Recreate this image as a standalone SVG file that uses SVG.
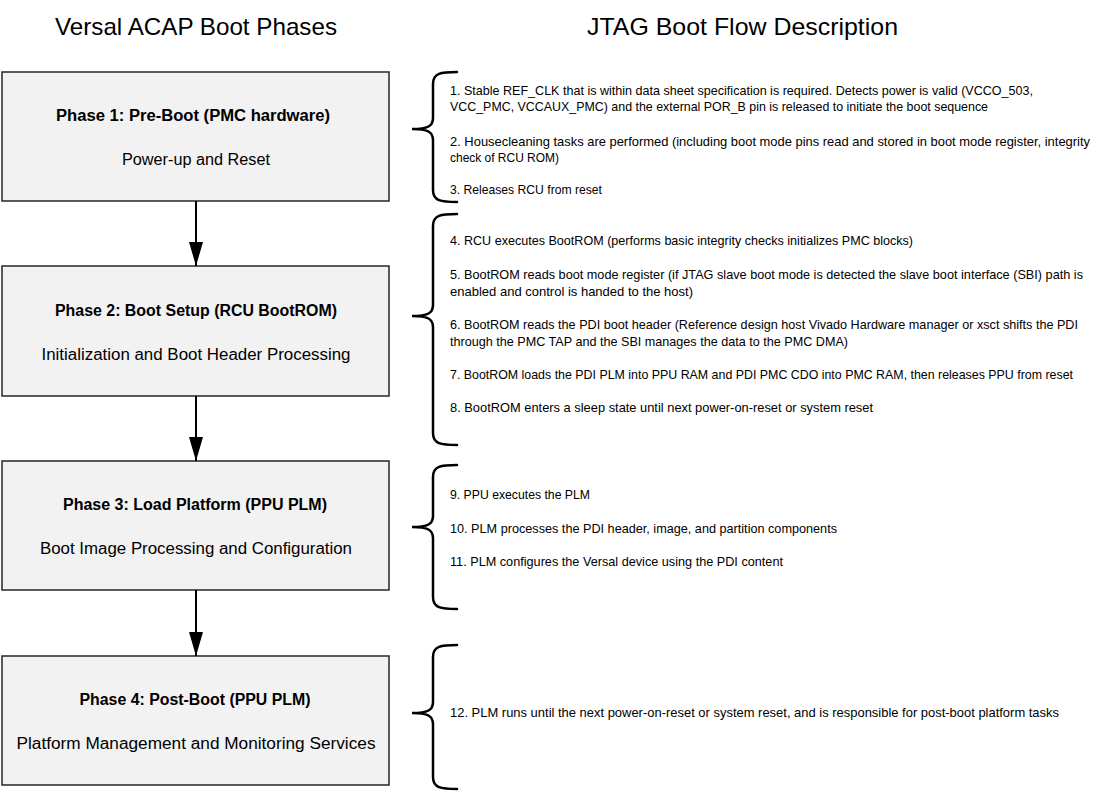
<svg xmlns="http://www.w3.org/2000/svg" width="1101" height="793" viewBox="0 0 1101 793">
<style>
.title{font-family:"Liberation Sans",Arial,sans-serif;font-size:24px;fill:#000}
.box{fill:#f2f2f2;stroke:#262626;stroke-width:1.5}
.bold{font-family:"Liberation Sans",Arial,sans-serif;font-size:16px;font-weight:bold;fill:#000;text-anchor:middle}
.sub{font-family:"Liberation Sans",Arial,sans-serif;font-size:16px;fill:#000;text-anchor:middle}
.desc{font-family:"Liberation Sans",Arial,sans-serif;font-size:13px;fill:#000}
.brace{fill:none;stroke:#000;stroke-width:2.5;stroke-linecap:round}
.conn{stroke:#000;stroke-width:2}
</style>
<defs>
<marker id="arr" viewBox="0 0 24 14" refX="24" refY="7" markerWidth="24" markerHeight="14" markerUnits="userSpaceOnUse" orient="auto">
<path d="M0,0 L24,7 L0,14 Z" fill="#000"/>
</marker>
</defs>
<rect width="1101" height="793" fill="#fff"/>
<text class="title" x="55" y="35" textLength="282" lengthAdjust="spacingAndGlyphs">Versal ACAP Boot Phases</text>
<text class="title" x="587" y="35" textLength="311" lengthAdjust="spacingAndGlyphs">JTAG Boot Flow Description</text>

<g id="phase1">
<rect class="box" x="2" y="72" width="387" height="129"/>
<text class="bold" x="193" y="121" textLength="274" lengthAdjust="spacingAndGlyphs">Phase 1: Pre-Boot (PMC hardware)</text>
<text class="sub" x="196" y="165" textLength="148" lengthAdjust="spacingAndGlyphs">Power-up and Reset</text>
</g>
<g id="phase2">
<rect class="box" x="2" y="266" width="387" height="130"/>
<text class="bold" x="196" y="316" textLength="282" lengthAdjust="spacingAndGlyphs">Phase 2: Boot Setup (RCU BootROM)</text>
<text class="sub" x="196" y="360" textLength="309" lengthAdjust="spacingAndGlyphs">Initialization and Boot Header Processing</text>
</g>
<g id="phase3">
<rect class="box" x="2" y="461" width="387" height="129"/>
<text class="bold" x="195" y="510" textLength="264" lengthAdjust="spacingAndGlyphs">Phase 3: Load Platform (PPU PLM)</text>
<text class="sub" x="196" y="554" textLength="312" lengthAdjust="spacingAndGlyphs">Boot Image Processing and Configuration</text>
</g>
<g id="phase4">
<rect class="box" x="2" y="656" width="387" height="129"/>
<text class="bold" x="195" y="705" textLength="231" lengthAdjust="spacingAndGlyphs">Phase 4: Post-Boot (PPU PLM)</text>
<text class="sub" x="196" y="749" textLength="359" lengthAdjust="spacingAndGlyphs">Platform Management and Monitoring Services</text>
</g>

<g id="connectors">
<line class="conn" x1="196" y1="201" x2="196" y2="266" marker-end="url(#arr)"/>
<line class="conn" x1="196" y1="396" x2="196" y2="461" marker-end="url(#arr)"/>
<line class="conn" x1="196" y1="590" x2="196" y2="656" marker-end="url(#arr)"/>
</g>

<g id="desc1">
<path class="brace" d="M457,72 C441,72 433,73 433,84 L433,118 C433,126 428,129 412,129 C428,129 433,132 433,140 L433,190 C433,201 441,202 457,202"/>
<text class="desc" x="450" y="95" textLength="583" lengthAdjust="spacingAndGlyphs">1. Stable REF_CLK that is within data sheet specification is required. Detects power is valid (VCCO_503,</text>
<text class="desc" x="450" y="111" textLength="538" lengthAdjust="spacingAndGlyphs">VCC_PMC, VCCAUX_PMC) and the external POR_B pin is released to initiate the boot sequence</text>
<text class="desc" x="450" y="146" textLength="640" lengthAdjust="spacingAndGlyphs">2. Housecleaning tasks are performed (including boot mode pins read and stored in boot mode register, integrity</text>
<text class="desc" x="450" y="162" textLength="109" lengthAdjust="spacingAndGlyphs">check of RCU ROM)</text>
<text class="desc" x="450" y="194" textLength="152" lengthAdjust="spacingAndGlyphs">3. Releases RCU from reset</text>
</g>
<g id="desc2">
<path class="brace" d="M457,214 C441,214 433,215 433,226 L433,305 C433,313 428,316 412,316 C428,316 433,319 433,327 L433,433 C433,444 441,445 457,445"/>
<text class="desc" x="450" y="245" textLength="463" lengthAdjust="spacingAndGlyphs">4. RCU executes BootROM (performs basic integrity checks initializes PMC blocks)</text>
<text class="desc" x="450" y="279" textLength="633" lengthAdjust="spacingAndGlyphs">5. BootROM reads boot mode register (if JTAG slave boot mode is detected the slave boot interface (SBI) path is</text>
<text class="desc" x="450" y="296" textLength="243" lengthAdjust="spacingAndGlyphs">enabled and control is handed to the host)</text>
<text class="desc" x="450" y="329" textLength="628" lengthAdjust="spacingAndGlyphs">6. BootROM reads the PDI boot header (Reference design host Vivado Hardware manager or xsct shifts the PDI</text>
<text class="desc" x="450" y="346" textLength="398" lengthAdjust="spacingAndGlyphs">through the PMC TAP and the SBI manages the data to the PMC DMA)</text>
<text class="desc" x="450" y="379" textLength="623" lengthAdjust="spacingAndGlyphs">7. BootROM loads the PDI PLM into PPU RAM and PDI PMC CDO into PMC RAM, then releases PPU from reset</text>
<text class="desc" x="450" y="412" textLength="423" lengthAdjust="spacingAndGlyphs">8. BootROM enters a sleep state until next power-on-reset or system reset</text>
</g>
<g id="desc3">
<path class="brace" d="M457,465 C441,465 433,466 433,477 L433,516 C433,524 428,527 412,527 C428,527 433,530 433,538 L433,597 C433,608 441,609 457,609"/>
<text class="desc" x="450" y="499" textLength="140" lengthAdjust="spacingAndGlyphs">9. PPU executes the PLM</text>
<text class="desc" x="450" y="533" textLength="387" lengthAdjust="spacingAndGlyphs">10. PLM processes the PDI header, image, and partition components</text>
<text class="desc" x="450" y="566" textLength="333" lengthAdjust="spacingAndGlyphs">11. PLM configures the Versal device using the PDI content</text>
</g>
<g id="desc4">
<path class="brace" d="M457,645 C441,645 433,646 433,657 L433,702 C433,710 428,713 412,713 C428,713 433,716 433,724 L433,777 C433,788 441,789 457,789"/>
<text class="desc" x="450" y="717" textLength="609" lengthAdjust="spacingAndGlyphs">12. PLM runs until the next power-on-reset or system reset, and is responsible for post-boot platform tasks</text>
</g>
</svg>
